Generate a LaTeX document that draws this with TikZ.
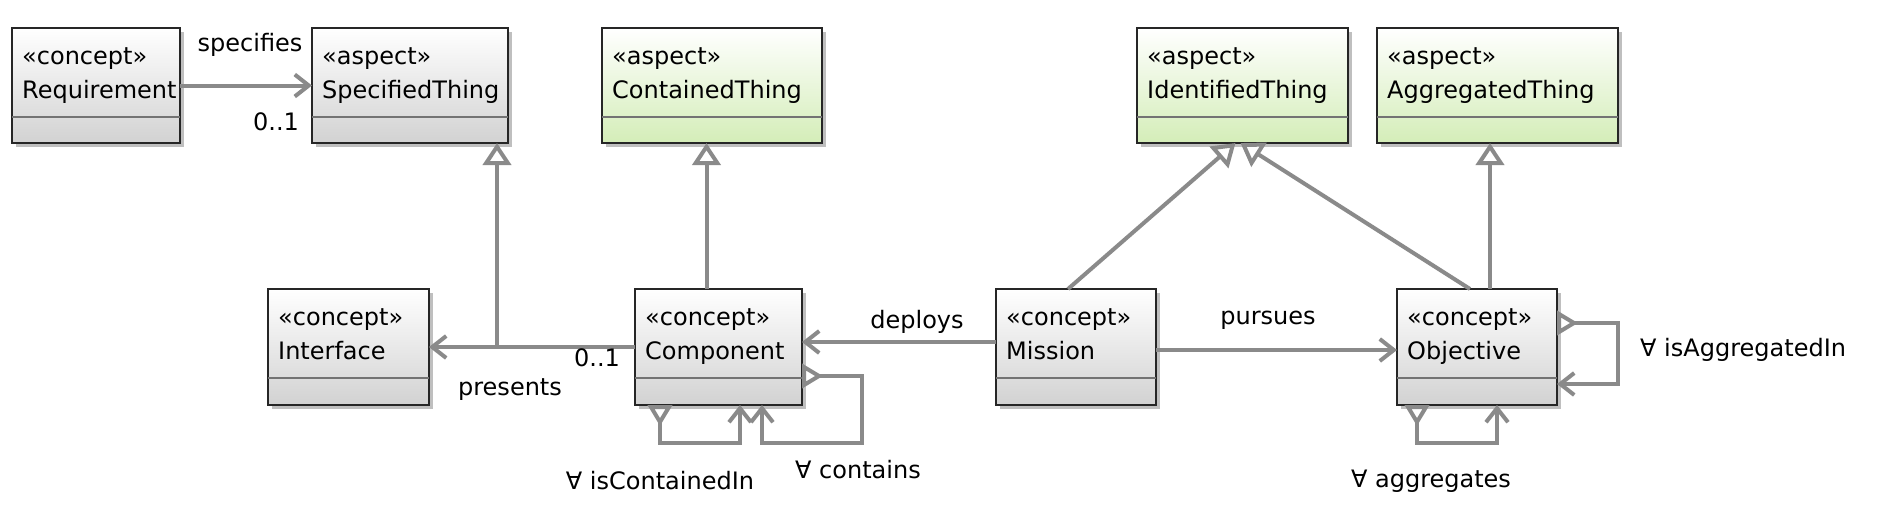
\documentclass[tikz,border=0pt]{standalone}
\usepackage{fontspec}
\setmainfont{DejaVu Sans}
\usetikzlibrary{arrows.meta,shadows,calc}
\definecolor{connc}{RGB}{138,138,138}
\definecolor{aspectbot}{RGB}{212,237,184}
\definecolor{conceptbot}{RGB}{210,210,210}
\tikzset{
  box/.style={draw=black!85, line width=1.6pt, inner sep=0pt, outer sep=0pt,
    drop shadow={shadow xshift=4pt, shadow yshift=-4pt, opacity=0.25, fill=black}},
  conceptbox/.style={box, top color=white, bottom color=conceptbot},
  aspectbox/.style={box, top color=white, bottom color=aspectbot},
  sepline/.style={draw=black!55, line width=1.2pt},
  lbl/.style={inner sep=0pt, font=\fontsize{24}{29}\selectfont},
  connline/.style={draw=connc, line width=4pt},
  assoc/.style={connline, -{Straight Barb[length=14pt, width=22pt]}},
  gen/.style={connline, -{Triangle[open, length=22pt, width=28pt, fill=white]}},
  aggloop/.style={connline, {Triangle[open, reversed, length=21pt, width=24pt, fill=white]}-{Straight Barb[length=14pt, width=22pt]}},
}
\newcommand\umlclass[8]{%
  \node[#2, minimum width={(#5-#3)*1pt}, minimum height={(#6-#4)*1pt}] (#1) at ({(#3+#5)/2},{(#4+#6)/2}) {};
  \draw[sepline] ([yshift=-89pt]#1.north west) -- ([yshift=-89pt]#1.north east);
  \node[lbl, anchor=base west] (#1-st) at ([xshift=10pt,yshift=-36pt]#1.north west) {«#7»};
  \node[lbl, anchor=base west] (#1-nm) at ([xshift=10pt,yshift=-70pt]#1.north west) {#8};
}
\begin{document}
\begin{tikzpicture}[x=1pt, y=-1pt]
\fill[white] (0,0) rectangle (1880,512);
\useasboundingbox (0,0) rectangle (1880,512);

% classes
\umlclass{req}{conceptbox}{12}{28}{180}{143}{concept}{Requirement}
\umlclass{spec}{conceptbox}{312}{28}{508}{143}{aspect}{SpecifiedThing}
\umlclass{cont}{aspectbox}{602}{28}{822}{143}{aspect}{ContainedThing}
\umlclass{ident}{aspectbox}{1137}{28}{1348}{143}{aspect}{IdentifiedThing}
\umlclass{aggr}{aspectbox}{1377}{28}{1618}{143}{aspect}{AggregatedThing}
\umlclass{iface}{conceptbox}{268}{289}{429}{405}{concept}{Interface}
\umlclass{comp}{conceptbox}{635}{289}{802}{405}{concept}{Component}
\umlclass{miss}{conceptbox}{996}{289}{1156}{405}{concept}{Mission}
\umlclass{obj}{conceptbox}{1397}{289}{1557}{405}{concept}{Objective}

% associations
\draw[assoc] (req.east) -- (spec.west);
\draw[assoc] (comp.west) -- (iface.east);
\coordinate (j1) at (497,347);
\draw[gen] (j1) -- (j1 |- spec.south);
\draw[assoc] ([yshift=5pt]miss.west) -- ([yshift=5pt]comp.east);
\draw[assoc] ([yshift=-3pt]miss.east) -- ([yshift=-3pt]obj.west);

% generalizations
\draw[gen] ([xshift=-12pt]comp.north) -- ([xshift=-12pt]comp.north |- cont.south);
\draw[gen] ([xshift=-8pt]miss.north) -- ([xshift=-7pt]ident.south);
\draw[gen] ([xshift=-7pt]obj.north) -- ([xshift=-2pt]ident.south);
\draw[gen] ([xshift=13pt]obj.north) -- ([xshift=13pt]obj.north |- aggr.south);

% self loops
\draw[aggloop] ([yshift=-29pt]comp.east) -- ++(60,0) -- ++(0,67) -| ([xshift=43.5pt]comp.south);
\draw[aggloop] ([xshift=-58.5pt]comp.south) -- ++(0,38) -| ([xshift=21.5pt]comp.south);
\draw[aggloop] ([yshift=24pt]obj.east) -- ++(61,0) |- ([yshift=-37pt]obj.east);
\draw[aggloop] ([xshift=-60pt]obj.south) -- ++(0,38) -| ([xshift=20pt]obj.south);

% labels
\node[lbl] (l-spec) at (250,45) {specifies};
\node[lbl] (l-m1) at (276,122) {0..1};
\node[lbl] (l-pres) at (510,390) {presents};
\node[lbl] (l-m2) at (597,358) {0..1};
\node[lbl] (l-dep) at (917,322) {deploys};
\node[lbl] (l-pur) at (1268,320) {pursues};
\node[lbl] (l-cont) at (858,470) {∀ contains};
\node[lbl] (l-cin) at (660,481) {∀ isContainedIn};
\node[lbl, anchor=west] (l-ain) at (1640,350) {∀ isAggregatedIn};
\node[lbl] (l-agg) at (1431,481) {∀ aggregates};
\end{tikzpicture}
\end{document}
